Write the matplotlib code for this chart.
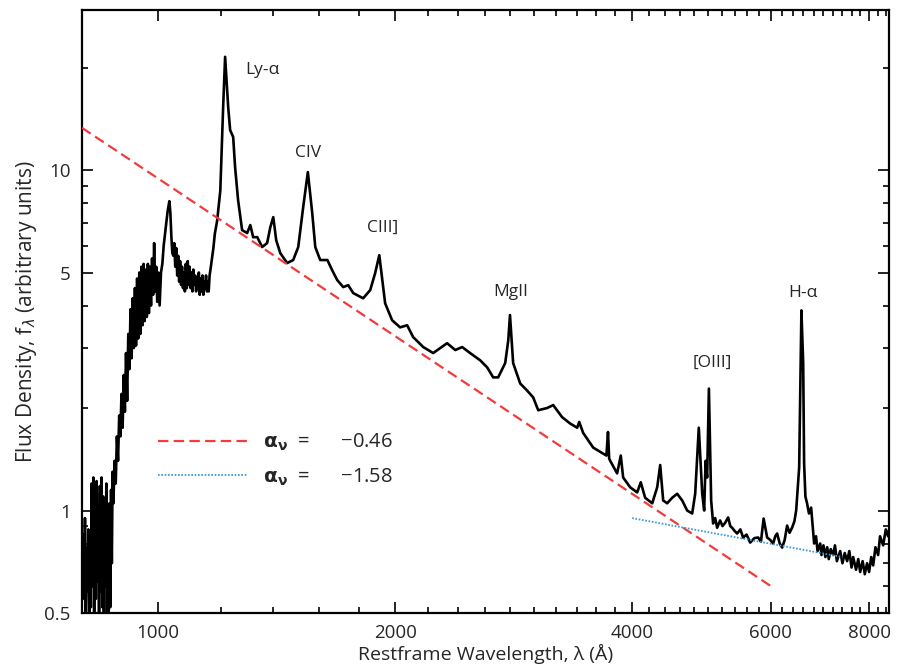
import matplotlib
matplotlib.use('Agg')
import matplotlib.pyplot as plt
from matplotlib.ticker import FixedLocator, NullFormatter, FuncFormatter

plt.rcParams['font.family'] = ['Open Sans', 'DejaVu Sans']
plt.rcParams['mathtext.fontset'] = 'dejavusans'
plt.rcParams['lines.scale_dashes'] = False

## composite quasar spectrum (rest wavelength in A, f_lambda)
# Lyman forest / Lyman limit part, very noisy
forestWave = [800, 803, 805, 807, 809, 811, 813, 815, 817, 819, 821, 823, 825, 827, 829,
              831, 833, 835, 837, 839, 841, 843, 845, 847, 849, 851, 853, 855, 857, 859,
              861, 863, 865, 867, 869, 871, 873, 875,
              877, 880, 883, 886, 889, 892, 895, 898, 901, 904, 907, 910, 913, 916, 919,
              922, 925, 928, 931, 934, 937, 940, 943, 946, 949, 952, 955, 958, 961, 964,
              967, 970, 973, 976, 979, 982, 985, 988, 991, 994, 997, 1000, 1004, 1008,
              1012, 1016, 1020, 1024, 1028, 1033, 1036, 1039, 1042,
              1045, 1048, 1051, 1054, 1057, 1060, 1063, 1066, 1069, 1072, 1075, 1078, 1081,
              1084, 1087, 1090, 1093, 1096, 1099, 1102, 1105, 1108, 1111, 1114, 1117, 1120,
              1123, 1126, 1129, 1132, 1135, 1138, 1141, 1144, 1147, 1150, 1153, 1156, 1159,
              1162, 1165, 1170, 1175]
forestFlux = [0.62, 0.85, 0.55, 0.95, 0.48, 0.78, 0.58, 0.88, 0.47, 0.72, 0.52, 1.20, 0.60, 1.25, 0.50,
              1.05, 0.55, 1.22, 0.62, 0.90, 0.48, 1.18, 0.58, 1.25, 0.52, 1.10, 0.45, 1.02, 0.60, 1.20,
              0.50, 0.95, 0.47, 1.05, 0.52, 1.15, 0.70, 1.30,
              1.05, 1.40, 1.20, 1.65, 1.40, 1.90, 1.65, 2.20, 1.75, 2.50, 1.95, 2.90, 2.10, 3.30, 2.60,
              3.90, 2.80, 4.20, 3.00, 4.50, 3.05, 4.80, 3.20, 5.00, 3.30, 5.20, 3.50, 5.30, 3.60, 5.10,
              3.70, 5.30, 3.80, 5.20, 4.00, 5.50, 4.30, 6.10, 4.40, 5.20, 4.10, 5.00, 4.00, 5.00,
              5.30, 6.00, 6.50, 7.00, 7.60, 8.10, 7.50, 6.40, 5.70,
              5.60, 6.10, 5.20, 5.90, 4.90, 5.60, 4.70, 5.40, 4.60, 5.20, 4.50, 5.00, 4.40,
              5.30, 4.50, 5.40, 4.60, 5.20, 4.50, 5.00, 4.40, 5.10, 4.60, 4.90, 4.40, 4.80,
              4.50, 5.00, 4.30, 4.80, 4.40, 4.90, 4.30, 4.70, 4.50, 4.90, 4.40, 4.70, 4.40,
              4.90, 5.10, 5.50, 5.90]

# Ly-alpha to the Balmer lines
uvWave = [1180, 1188, 1199, 1209, 1216, 1227, 1234, 1245, 1252, 1263, 1278, 1297, 1309,
          1320, 1336, 1355, 1375, 1388, 1400, 1412, 1429, 1458, 1484, 1506, 1528, 1549,
          1569, 1583, 1606, 1640, 1663, 1688, 1718, 1743, 1769, 1821, 1859, 1886, 1909,
          1931, 1942, 1982, 2029, 2071, 2108, 2171, 2235, 2328, 2384, 2433, 2490, 2565,
          2618, 2664, 2703, 2759, 2784, 2798, 2824, 2883, 2942, 2994, 3039, 3120, 3175,
          3259, 3337, 3406, 3426, 3466, 3569, 3675, 3710, 3727, 3740, 3751, 3828, 3869,
          3896, 3977, 4059, 4102, 4155, 4242, 4304, 4342, 4380, 4431, 4497, 4563, 4631,
          4698, 4768, 4810, 4861, 4910, 4938, 4959, 4981, 5007, 5040, 5069, 5100, 5129,
          5174, 5210, 5250, 5297, 5330, 5359, 5400, 5438, 5490, 5534, 5590, 5649, 5720,
          5783, 5830, 5876, 5937, 5990, 6042, 6080, 6113, 6160, 6203, 6250, 6294, 6340,
          6387, 6430, 6463, 6520, 6563, 6597, 6615, 6640, 6673, 6710, 6752]
uvFlux = [6.50, 7.10, 8.70, 15.3, 21.5, 15.3, 13.1, 12.5, 10.2, 8.16, 6.66, 6.53, 6.89,
          6.35, 6.35, 5.94, 6.10, 6.80, 7.27, 6.22, 5.70, 5.33, 5.44, 5.94, 7.78, 9.86,
          7.47, 5.94, 5.44, 5.44, 5.08, 4.75, 4.53, 4.59, 4.35, 4.20, 4.44, 4.98, 5.62,
          4.53, 4.06, 3.62, 3.45, 3.50, 3.23, 3.02, 2.90, 3.10, 2.96, 3.02, 2.90, 2.76,
          2.63, 2.46, 2.46, 2.71, 3.16, 3.75, 2.71, 2.36, 2.25, 2.15, 1.97, 2.00, 2.04,
          1.88, 1.80, 1.75, 1.82, 1.69, 1.53, 1.47, 1.45, 1.70, 1.42, 1.40, 1.285, 1.45,
          1.25, 1.17, 1.13, 1.21, 1.09, 1.05, 1.17, 1.36, 1.07, 1.05, 1.09, 1.12, 1.07,
          1.00, 0.98, 1.12, 1.75, 1.12, 1.00, 1.40, 1.25, 2.28, 1.07, 0.916, 0.95, 0.89,
          0.935, 0.90, 0.92, 0.954, 0.90, 0.89, 0.87, 0.856, 0.88, 0.833, 0.85, 0.805, 0.83,
          0.833, 0.81, 0.947, 0.833, 0.82, 0.80, 0.84, 0.856, 0.80, 0.778, 0.82, 0.903, 0.86,
          0.891, 0.93, 1.00, 1.338, 3.87, 2.71, 1.375, 1.10, 1.048, 0.98, 1.02]

# red end, noisy again
redWave = [6812, 6850, 6880, 6934, 6960, 7000, 7040, 7077, 7110, 7150, 7202, 7240, 7280,
           7351, 7400, 7450, 7502, 7550, 7600, 7636, 7700, 7750, 7794, 7850, 7900, 7953,
           8000, 8050, 8096, 8150, 8214, 8260, 8336, 8400, 8457, 8500]
redFlux = [0.80, 0.84, 0.76, 0.80, 0.74, 0.79, 0.73, 0.78, 0.72, 0.77, 0.74, 0.79, 0.71,
           0.76, 0.70, 0.75, 0.71, 0.76, 0.68, 0.73, 0.67, 0.72, 0.66, 0.71, 0.65, 0.70,
           0.66, 0.73, 0.69, 0.78, 0.74, 0.84, 0.79, 0.88, 0.84, 0.90]

## power law fits (end points)
fitRedWave = [800, 6000]
fitRedFlux = [13.3, 0.60]
fitBlueWave = [4000, 7400]
fitBlueFlux = [0.95, 0.73]
fitLabels = ['\u22120.46', '\u22121.58']

## line labels
lineNames = ['Ly-\u03b1', 'CIV', 'CIII]', 'MgII', '[OIII]', 'H-\u03b1']
lineWave = [1355, 1550, 1925, 2800, 5055, 6597]
lineFlux = [19.7, 11.2, 6.75, 4.38, 2.71, 4.35]

xMajor = [1000, 2000, 4000, 6000, 8000]
yMajor = [0.5, 1, 5, 10]

wave = forestWave + uvWave + redWave
flux = forestFlux + uvFlux + redFlux

fig = plt.figure(figsize=(8.97, 6.69), dpi=100)
ax = fig.add_axes([0.0914, 0.0837, 0.8997, 0.9013])
ax.set_xscale('log')
ax.set_yscale('log')

alphaTxt = r'$\mathbf{\alpha_\nu}$  =      '
ax.plot(wave, flux, color='black', lw=1.9, zorder=3)
ax.plot(fitRedWave, fitRedFlux, color='#f03c3c', lw=1.6, dashes=(7.5, 3.8),
        label=alphaTxt + fitLabels[0], zorder=4)
ax.plot(fitBlueWave, fitBlueFlux, color='#3a9ad8', lw=1.3, dashes=(1.2, 1.2),
        label=alphaTxt + fitLabels[1], zorder=4)

for name, lw_, lf in zip(lineNames, lineWave, lineFlux):
    ax.text(lw_, lf, name, ha='center', va='center', fontsize=12.5, color='#262626')

ax.set_xlim(800, 8480)
ax.set_ylim(0.5, 29.5)

ax.xaxis.set_major_locator(FixedLocator(xMajor))
ax.xaxis.set_minor_locator(FixedLocator([w for w in range(800, 8600, 200) if w not in xMajor]))
ax.xaxis.set_major_formatter(FuncFormatter(lambda v, p: '%d' % v))
ax.xaxis.set_minor_formatter(NullFormatter())

ax.yaxis.set_major_locator(FixedLocator(yMajor))
ax.yaxis.set_minor_locator(FixedLocator([0.6, 0.7, 0.8, 0.9, 2, 3, 4, 6, 7, 8, 9, 20]))
ax.yaxis.set_major_formatter(FuncFormatter(lambda v, p: '%g' % v))
ax.yaxis.set_minor_formatter(NullFormatter())

ax.tick_params(which='both', direction='in', top=True, right=True, labelsize=13.5,
               colors='black', labelcolor='#262626', width=1.2)
ax.tick_params(which='major', length=8, pad=8)
ax.tick_params(which='minor', length=4)
for s in ax.spines.values():
    s.set_linewidth(1.6)

ax.set_xlabel('Restframe Wavelength, \u03bb (\u00c5)', fontsize=14, color='#262626', labelpad=1)
ax.set_ylabel(r'Flux Density, f$_\lambda$ (arbitrary units)', fontsize=15, color='#262626', labelpad=4)

leg = ax.legend(loc='upper left', bbox_to_anchor=(0.094, 0.30), frameon=False,
                borderpad=0, borderaxespad=0, handlelength=4.5, handletextpad=0.7,
                labelspacing=0.65, fontsize=14.5)
for t in leg.get_texts():
    t.set_color('#262626')

fig.savefig('out.png', dpi=100)
